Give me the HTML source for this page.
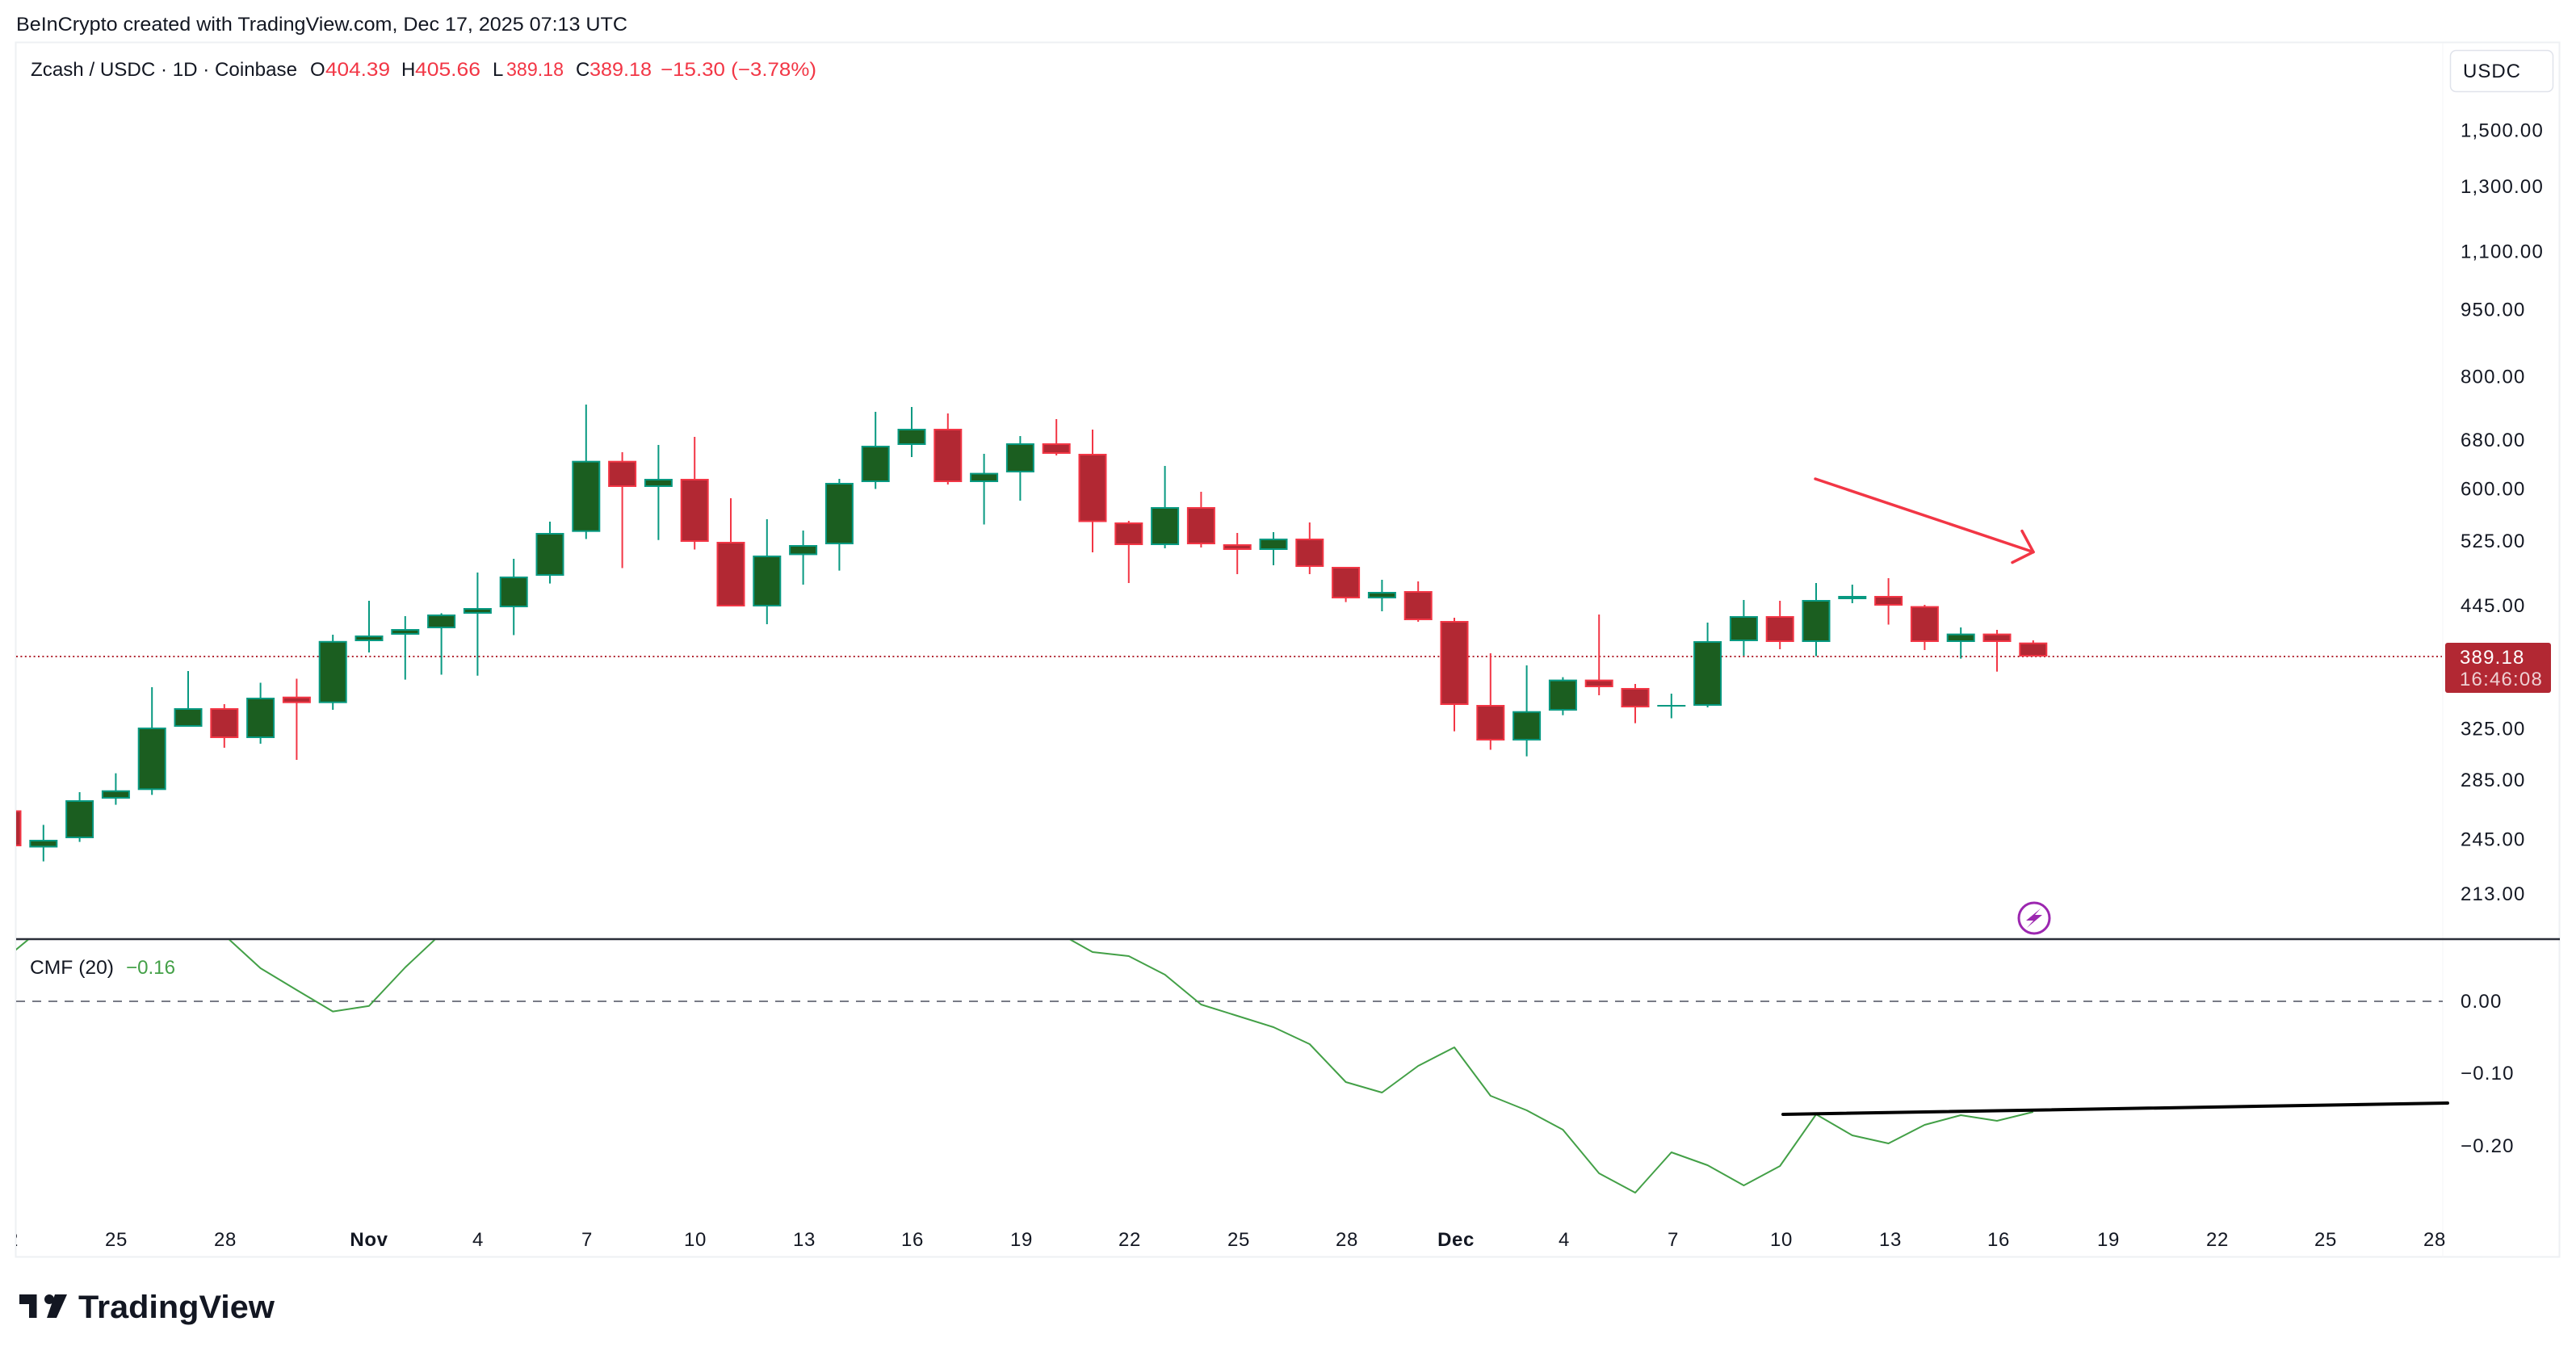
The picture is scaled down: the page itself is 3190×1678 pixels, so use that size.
<!DOCTYPE html>
<html><head><meta charset="utf-8"><style>
html,body{margin:0;padding:0;background:#fff;}
svg{display:block;}
text{font-family:"Liberation Sans",sans-serif;}
.g line{stroke:#089981;stroke-width:2}
.g rect{fill:#1b5e20;stroke:#089981;stroke-width:2}
.r line{stroke:#f23645;stroke-width:2}
.r rect{fill:#b22833;stroke:#f23645;stroke-width:2}
.ax{font-size:24px;fill:#131722;letter-spacing:1.2px}
.tm{font-size:24px;fill:#131722;text-anchor:middle;letter-spacing:0.6px}
</style></head><body>
<svg width="3190" height="1678" viewBox="0 0 3190 1678" xmlns="http://www.w3.org/2000/svg">
<defs>
<clipPath id="mainclip"><rect x="20" y="53" width="3005" height="1109"/></clipPath>
<clipPath id="cmfclip"><rect x="20" y="1164" width="3005" height="393"/></clipPath>
<clipPath id="timeclip"><rect x="20" y="1480" width="3005" height="76"/></clipPath>
</defs>
<rect x="0" y="0" width="3190" height="1678" fill="#fff"/>
<!-- header -->
<text x="20" y="38" font-size="24" fill="#131722" textLength="757" lengthAdjust="spacingAndGlyphs">BeInCrypto created with TradingView.com, Dec 17, 2025 07:13 UTC</text>
<!-- panel border -->
<rect x="19.5" y="52.5" width="3150" height="1504" fill="none" stroke="#eef0f3" stroke-width="2"/>
<line x1="3025" y1="53" x2="3025" y2="1557" stroke="#f3f4f7" stroke-width="1"/>
<!-- symbol line -->
<g font-size="24">
<text x="38" y="94" fill="#131722" textLength="330" lengthAdjust="spacingAndGlyphs">Zcash / USDC · 1D · Coinbase</text>
<text x="384" y="94" fill="#131722">O</text>
<text x="403" y="94" fill="#f23645" textLength="80" lengthAdjust="spacingAndGlyphs">404.39</text>
<text x="497" y="94" fill="#131722">H</text>
<text x="514" y="94" fill="#f23645" textLength="81" lengthAdjust="spacingAndGlyphs">405.66</text>
<text x="610" y="94" fill="#131722">L</text>
<text x="627" y="94" fill="#f23645" textLength="71" lengthAdjust="spacingAndGlyphs">389.18</text>
<text x="713" y="94" fill="#131722">C</text>
<text x="730" y="94" fill="#f23645" textLength="77" lengthAdjust="spacingAndGlyphs">389.18</text>
<text x="818" y="94" fill="#f23645" textLength="193" lengthAdjust="spacingAndGlyphs">−15.30 (−3.78%)</text>
</g>
<!-- USDC button -->
<rect x="3034.5" y="62.5" width="127" height="51" rx="7" fill="#fff" stroke="#e0e3eb" stroke-width="1.5"/>
<text x="3086" y="96" font-size="24" fill="#131722" text-anchor="middle" letter-spacing="1">USDC</text>
<!-- price axis labels -->
<g class="ax">
<text x="3047" y="169.5">1,500.00</text>
<text x="3047" y="238.8">1,300.00</text>
<text x="3047" y="319.7">1,100.00</text>
<text x="3047" y="391.3">950.00</text>
<text x="3047" y="474.5">800.00</text>
<text x="3047" y="552.8">680.00</text>
<text x="3047" y="613.5">600.00</text>
<text x="3047" y="678.1">525.00</text>
<text x="3047" y="758.2">445.00</text>
<text x="3047" y="910.5">325.00</text>
<text x="3047" y="974.1">285.00</text>
<text x="3047" y="1047.3">245.00</text>
<text x="3047" y="1115.2">213.00</text>
</g>
<!-- main pane -->
<g clip-path="url(#mainclip)">
<line x1="20" y1="813" x2="3024" y2="813" stroke="#b22833" stroke-width="2" stroke-dasharray="2 3.4"/>
<g class="r"><rect x="-7.5" y="1004.5" width="33" height="42.5"/></g>
<g class="g"><line x1="53.8" y1="1021.5" x2="53.8" y2="1066.7"/><rect x="37.3" y="1041" width="33" height="7.5"/></g>
<g class="g"><line x1="98.6" y1="981" x2="98.6" y2="1042.6"/><rect x="82.1" y="992" width="33" height="45"/></g>
<g class="g"><line x1="143.4" y1="957.6" x2="143.4" y2="996.6"/><rect x="126.9" y="979.7" width="33" height="8.3"/></g>
<g class="g"><line x1="188.2" y1="851" x2="188.2" y2="984.4"/><rect x="171.7" y="902" width="33" height="75.3"/></g>
<g class="g"><line x1="233" y1="831" x2="233" y2="877"/><rect x="216.5" y="878" width="33" height="21"/></g>
<g class="r"><line x1="277.8" y1="872" x2="277.8" y2="926"/><rect x="261.3" y="878" width="33" height="35"/></g>
<g class="g"><line x1="322.6" y1="845.5" x2="322.6" y2="921"/><rect x="306.1" y="865" width="33" height="48"/></g>
<g class="r"><line x1="367.4" y1="840.5" x2="367.4" y2="941"/><rect x="350.9" y="863.7" width="33" height="6"/></g>
<g class="g"><line x1="412.2" y1="786" x2="412.2" y2="879"/><rect x="395.7" y="794.8" width="33" height="74.9"/></g>
<g class="g"><line x1="457" y1="744" x2="457" y2="808"/><rect x="440.5" y="788" width="33" height="5"/></g>
<g class="g"><line x1="501.8" y1="763" x2="501.8" y2="841.6"/><rect x="485.3" y="780" width="33" height="5"/></g>
<g class="g"><line x1="546.6" y1="759.4" x2="546.6" y2="835.5"/><rect x="530.1" y="762" width="33" height="15"/></g>
<g class="g"><line x1="591.4" y1="709" x2="591.4" y2="836.7"/><rect x="574.9" y="754" width="33" height="5"/></g>
<g class="g"><line x1="636.2" y1="692" x2="636.2" y2="786.5"/><rect x="619.7" y="715" width="33" height="36"/></g>
<g class="g"><line x1="681" y1="646" x2="681" y2="722.6"/><rect x="664.5" y="661" width="33" height="51"/></g>
<g class="g"><line x1="725.8" y1="501" x2="725.8" y2="667.5"/><rect x="709.3" y="571.7" width="33" height="86"/></g>
<g class="r"><line x1="770.6" y1="560" x2="770.6" y2="703.5"/><rect x="754.1" y="571.7" width="33" height="30.3"/></g>
<g class="g"><line x1="815.4" y1="551" x2="815.4" y2="668.7"/><rect x="798.9" y="594" width="33" height="8"/></g>
<g class="r"><line x1="860.2" y1="541" x2="860.2" y2="680.5"/><rect x="843.7" y="594" width="33" height="76"/></g>
<g class="r"><line x1="905" y1="617" x2="905" y2="751"/><rect x="888.5" y="672" width="33" height="78"/></g>
<g class="g"><line x1="949.8" y1="643" x2="949.8" y2="773"/><rect x="933.3" y="689" width="33" height="61"/></g>
<g class="g"><line x1="994.6" y1="657" x2="994.6" y2="724"/><rect x="978.1" y="676" width="33" height="10.4"/></g>
<g class="g"><line x1="1039.4" y1="593" x2="1039.4" y2="706.6"/><rect x="1022.9" y="599" width="33" height="74"/></g>
<g class="g"><line x1="1084.2" y1="510" x2="1084.2" y2="605.5"/><rect x="1067.7" y="553" width="33" height="43"/></g>
<g class="g"><line x1="1129" y1="504" x2="1129" y2="566"/><rect x="1112.5" y="532" width="33" height="18"/></g>
<g class="r"><line x1="1173.8" y1="512" x2="1173.8" y2="600"/><rect x="1157.3" y="532" width="33" height="64"/></g>
<g class="g"><line x1="1218.6" y1="562" x2="1218.6" y2="649.5"/><rect x="1202.1" y="586.6" width="33" height="9.4"/></g>
<g class="g"><line x1="1263.4" y1="540" x2="1263.4" y2="620"/><rect x="1246.9" y="550" width="33" height="34"/></g>
<g class="r"><line x1="1308.2" y1="519" x2="1308.2" y2="564"/><rect x="1291.7" y="550" width="33" height="11"/></g>
<g class="r"><line x1="1353" y1="532" x2="1353" y2="684"/><rect x="1336.5" y="563" width="33" height="82.5"/></g>
<g class="r"><line x1="1397.8" y1="645" x2="1397.8" y2="722"/><rect x="1381.3" y="648" width="33" height="26"/></g>
<g class="g"><line x1="1442.6" y1="577" x2="1442.6" y2="679"/><rect x="1426.1" y="629" width="33" height="45"/></g>
<g class="r"><line x1="1487.4" y1="609" x2="1487.4" y2="678"/><rect x="1470.9" y="629" width="33" height="44"/></g>
<g class="r"><line x1="1532.2" y1="660" x2="1532.2" y2="711"/><rect x="1515.7" y="675" width="33" height="5"/></g>
<g class="g"><line x1="1577" y1="659" x2="1577" y2="700"/><rect x="1560.5" y="668" width="33" height="12"/></g>
<g class="r"><line x1="1621.8" y1="647" x2="1621.8" y2="711"/><rect x="1605.3" y="668" width="33" height="33"/></g>
<g class="r"><line x1="1666.6" y1="702" x2="1666.6" y2="745.6"/><rect x="1650.1" y="703" width="33" height="37"/></g>
<g class="g"><line x1="1711.4" y1="718" x2="1711.4" y2="757"/><rect x="1694.9" y="734" width="33" height="6"/></g>
<g class="r"><line x1="1756.2" y1="720" x2="1756.2" y2="770"/><rect x="1739.7" y="733" width="33" height="34"/></g>
<g class="r"><line x1="1801" y1="765" x2="1801" y2="905.6"/><rect x="1784.5" y="770" width="33" height="102"/></g>
<g class="r"><line x1="1845.8" y1="809" x2="1845.8" y2="928.5"/><rect x="1829.3" y="874" width="33" height="42"/></g>
<g class="g"><line x1="1890.6" y1="824" x2="1890.6" y2="936.6"/><rect x="1874.1" y="881.7" width="33" height="34.3"/></g>
<g class="g"><line x1="1935.4" y1="838.6" x2="1935.4" y2="885.7"/><rect x="1918.9" y="842.6" width="33" height="36.4"/></g>
<g class="r"><line x1="1980.2" y1="761" x2="1980.2" y2="861"/><rect x="1963.7" y="842.6" width="33" height="7.4"/></g>
<g class="r"><line x1="2025" y1="847" x2="2025" y2="895.6"/><rect x="2008.5" y="853" width="33" height="22"/></g>
<g class="g"><line x1="2069.8" y1="859" x2="2069.8" y2="889.5"/><line x1="2052.3" y1="874" x2="2087.3" y2="874"/></g>
<g class="g"><line x1="2114.6" y1="771" x2="2114.6" y2="876"/><rect x="2098.1" y="795" width="33" height="78"/></g>
<g class="g"><line x1="2159.4" y1="743" x2="2159.4" y2="812"/><rect x="2142.9" y="764" width="33" height="29"/></g>
<g class="r"><line x1="2204.2" y1="744" x2="2204.2" y2="804"/><rect x="2187.7" y="764" width="33" height="30"/></g>
<g class="g"><line x1="2249" y1="722" x2="2249" y2="812.6"/><rect x="2232.5" y="744" width="33" height="50"/></g>
<g class="g"><line x1="2293.8" y1="724" x2="2293.8" y2="747"/><rect x="2277.3" y="739" width="33" height="2"/></g>
<g class="r"><line x1="2338.6" y1="716" x2="2338.6" y2="773.5"/><rect x="2322.1" y="739" width="33" height="10"/></g>
<g class="r"><line x1="2383.4" y1="749" x2="2383.4" y2="805"/><rect x="2366.9" y="751.6" width="33" height="42.4"/></g>
<g class="g"><line x1="2428.2" y1="777" x2="2428.2" y2="815.6"/><rect x="2411.7" y="785.6" width="33" height="8.4"/></g>
<g class="r"><line x1="2473" y1="780" x2="2473" y2="831.7"/><rect x="2456.5" y="785.6" width="33" height="8.4"/></g>
<g class="r"><line x1="2517.8" y1="793" x2="2517.8" y2="813"/><rect x="2501.3" y="796.7" width="33" height="15.3"/></g>
<!-- arrow -->
<g stroke="#f23645" stroke-width="3.5" stroke-linecap="round" fill="none">
<line x1="2248" y1="593" x2="2518" y2="683.6"/>
<line x1="2518" y1="683.6" x2="2504" y2="657.6"/>
<line x1="2518" y1="683.6" x2="2492" y2="696.6"/>
</g>
<!-- lightning icon -->
<circle cx="2519" cy="1137" r="19" fill="#fff" stroke="#9c27b0" stroke-width="3"/>
<path d="M2527 1125 L2509 1140 L2518 1140 L2510 1149 L2529 1133 L2520 1133 Z" fill="#9c27b0"/>
</g>
<!-- price label -->
<rect x="3028" y="796" width="131" height="62" rx="3" fill="#b22833"/>
<text x="3046" y="822" class="ax" style="fill:#fff">389.18</text>
<text x="3046" y="849" class="ax" style="fill:rgba(255,255,255,0.78)">16:46:08</text>
<!-- separator -->
<line x1="20" y1="1163" x2="3170" y2="1163" stroke="#2a2e39" stroke-width="2.5"/>
<!-- CMF pane -->
<g clip-path="url(#cmfclip)">
<line x1="20" y1="1240" x2="3031" y2="1240" stroke="#787b86" stroke-width="2" stroke-dasharray="11 9"/>
<g fill="none" stroke="#43a047" stroke-width="2" stroke-linejoin="round">
<polyline points="9,1185 53.8,1148"/>
<polyline points="233,1120 277.8,1158 322.6,1199 367.4,1226 412.2,1252.6 457,1245.7 501.8,1198 546.6,1156 591.4,1120"/>
<polyline points="1308.2,1154 1353,1179 1397.8,1184 1442.6,1207 1487.4,1244 1532.2,1258 1577,1272 1621.8,1293 1666.6,1340 1711.4,1353 1756.2,1320 1801,1297 1845.8,1357 1890.6,1375 1935.4,1399 1980.2,1453 2025,1477 2069.8,1427 2114.6,1443 2159.4,1468 2204.2,1444 2249,1380 2293.8,1406 2338.6,1416 2383.4,1393 2428.2,1381 2473,1388 2517.8,1377"/>
</g>
</g>
<line x1="2208" y1="1380" x2="3031" y2="1366" stroke="#000" stroke-width="4" stroke-linecap="round"/>
<text x="37" y="1206" font-size="24" fill="#131722" textLength="104" lengthAdjust="spacingAndGlyphs">CMF (20)</text>
<text x="156" y="1206" font-size="24" fill="#43a047" textLength="61" lengthAdjust="spacingAndGlyphs">−0.16</text>
<g class="ax">
<text x="3047" y="1248">0.00</text>
<text x="3047" y="1337">−0.10</text>
<text x="3047" y="1427">−0.20</text>
</g>
<!-- time axis -->
<g class="tm">
<g clip-path="url(#timeclip)"><text x="9" y="1543">22</text></g>
<text x="144" y="1543">25</text>
<text x="279" y="1543">28</text>
<text x="457" y="1543" font-weight="bold">Nov</text>
<text x="592" y="1543">4</text>
<text x="727" y="1543">7</text>
<text x="861" y="1543">10</text>
<text x="996" y="1543">13</text>
<text x="1130" y="1543">16</text>
<text x="1265" y="1543">19</text>
<text x="1399" y="1543">22</text>
<text x="1534" y="1543">25</text>
<text x="1668" y="1543">28</text>
<text x="1803" y="1543" font-weight="bold">Dec</text>
<text x="1937" y="1543">4</text>
<text x="2072" y="1543">7</text>
<text x="2206" y="1543">10</text>
<text x="2341" y="1543">13</text>
<text x="2475" y="1543">16</text>
<text x="2611" y="1543">19</text>
<text x="2746" y="1543">22</text>
<text x="2880" y="1543">25</text>
<text x="3015" y="1543">28</text>
</g>
<!-- TradingView logo -->
<g fill="#131722">
<rect x="24" y="1603" width="21" height="12"/>
<rect x="36" y="1603" width="9.5" height="29"/>
<circle cx="61" cy="1609" r="6"/>
<polygon points="68,1603 83,1603 70,1632 58,1632"/>
</g>
<text x="97" y="1632" font-size="40" font-weight="bold" fill="#131722" textLength="243" lengthAdjust="spacingAndGlyphs">TradingView</text>
</svg>
</body></html>
